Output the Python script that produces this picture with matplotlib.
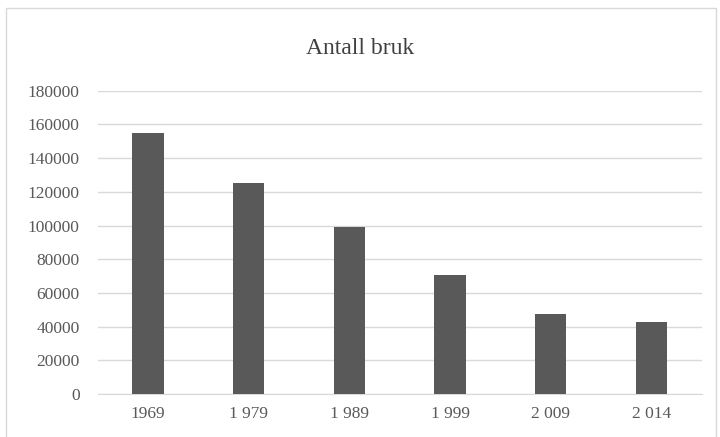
import matplotlib
matplotlib.use("Agg")
import matplotlib.pyplot as plt
from matplotlib.patches import Rectangle

years = ["1969", "1 979", "1 989", "1 999", "2 009", "2 014"]
farms = [154800, 125100, 99300, 70400, 47300, 42600]
y_ticks = [0, 20000, 40000, 60000, 80000, 100000, 120000, 140000, 160000, 180000]

plt.rcParams['font.family'] = ['Liberation Serif', 'DejaVu Serif']

fig = plt.figure(figsize=(7.2, 4.37), dpi=100)
ax = fig.add_axes([0.1357, 0.0984, 0.839, 0.694])

# outer chart border
fig.patches.append(Rectangle((0.008, -0.01), 0.986, 0.992, transform=fig.transFigure,
                             fill=False, edgecolor='#d9d9d9', linewidth=1))

ax.bar(range(len(years)), farms, width=0.31, color='#595959', zorder=3)
ax.set_xlim(-0.5, len(years) - 0.5)
ax.set_ylim(0, 180000)
ax.set_yticks(y_ticks)
ax.set_yticklabels([str(v) for v in y_ticks])
ax.set_xticks(range(len(years)))
ax.set_xticklabels(years)

ax.grid(True, axis='y', color='#d9d9d9', linewidth=1, zorder=0)
for s in ['top', 'right', 'left']:
    ax.spines[s].set_visible(False)
ax.spines['bottom'].set_color('#d9d9d9')
ax.tick_params(axis='both', length=0, colors='#595959', labelsize=12.5)
ax.tick_params(axis='y', pad=13)
ax.tick_params(axis='x', pad=9)

fig.text(0.5, 0.888, "Antall bruk", ha='center', va='center', fontsize=17, color='#404040')

fig.savefig("out.png", dpi=100)
